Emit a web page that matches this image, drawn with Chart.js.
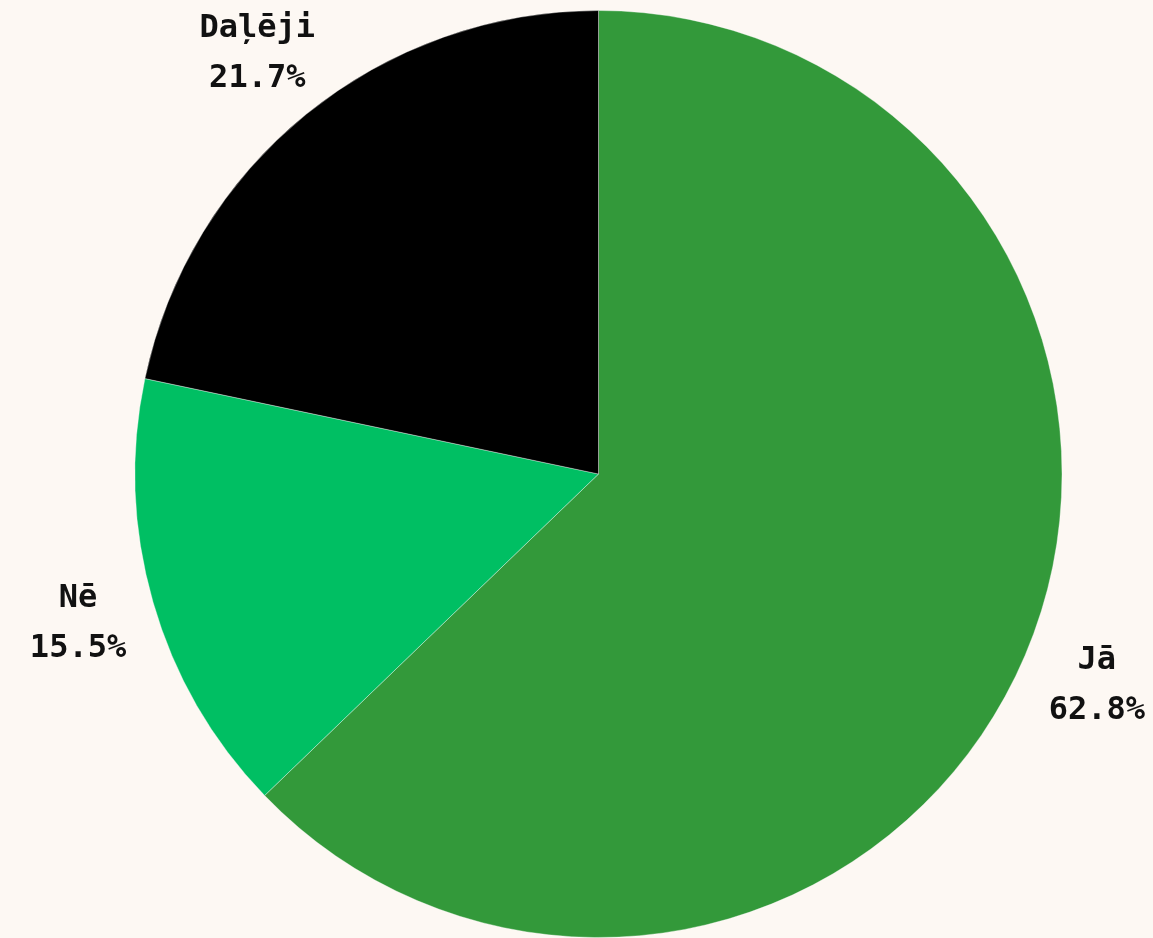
<!DOCTYPE html>
<html lang="lv">
<head>
    <meta charset="UTF-8">
    <title>Pie</title>
    <script src="https://cdn.jsdelivr.net/npm/chart.js"></script>
    <style>
        html, body {
            margin: 0;
            padding: 0;
            background: #fdf8f3;
        }
        canvas {
            display: block;
        }
    </style>
</head>
<body>
    <canvas id="pieChart" width="1153" height="938"></canvas>

    <script>
        const labels = ['Jā', 'Nē', 'Daļēji'];
        const shares = [62.8, 15.5, 21.7];
        const colors = ['#33993a', '#00bf63', '#000000'];

        // labels outside the slices, two lines each
        const outsideLabels = {
            id: 'outsideLabels',
            afterDatasetsDraw(chart) {
                const ctx = chart.ctx;
                const meta = chart.getDatasetMeta(0);
                ctx.save();
                ctx.font = 'bold 32px "DejaVu Sans Mono", monospace';
                ctx.fillStyle = '#111111';
                ctx.textAlign = 'center';
                ctx.textBaseline = 'middle';
                meta.data.forEach((arc, i) => {
                    const p = arc.getProps(['x', 'y', 'startAngle', 'endAngle', 'outerRadius'], true);
                    const mid = (p.startAngle + p.endAngle) / 2;
                    const r = p.outerRadius + 78;
                    const x = p.x + Math.cos(mid) * r;
                    const y = p.y + Math.sin(mid) * r;
                    ctx.fillText(labels[i], x, y - 25);
                    ctx.fillText(shares[i].toFixed(1) + '%', x, y + 25);
                });
                ctx.restore();
            }
        };

        const ctx = document.getElementById('pieChart').getContext('2d');
        new Chart(ctx, {
            type: 'pie',
            data: {
                labels: labels,
                datasets: [{
                    data: shares,
                    backgroundColor: colors,
                    borderColor: 'rgba(255,255,255,0.35)',
                    borderWidth: 1
                }]
            },
            options: {
                responsive: false,
                animation: false,
                layout: {
                    padding: { top: 10, bottom: 0, left: 44, right: 0 }
                },
                plugins: {
                    legend: { display: false },
                    tooltip: { enabled: false }
                }
            },
            plugins: [outsideLabels]
        });
    </script>
</body>
</html>
